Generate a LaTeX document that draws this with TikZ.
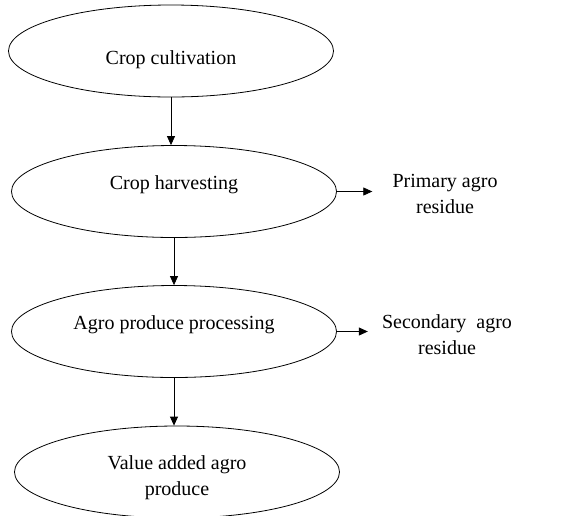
\documentclass[tikz,border=0pt]{standalone}
\usepackage{fontspec}
\setmainfont{Liberation Serif}
\usetikzlibrary{shapes.geometric,arrows.meta}
\begin{document}
\begin{tikzpicture}[x=1pt,y=-1pt,
  stage/.style={ellipse,draw,line width=0.8pt,inner sep=0pt,
    minimum width=325pt,minimum height=92pt,align=center,
    font=\fontsize{20}{26}\selectfont},
  outtxt/.style={align=center,inner sep=0pt,font=\fontsize{20}{26}\selectfont},
  flow/.style={line width=0.8pt,-{Triangle[length=9pt,width=8pt]}}]
\useasboundingbox (0,0) rectangle (577,515);
\clip (0,0) rectangle (577,515);
% process stages
\node[stage,text height=26pt,text depth=0pt] (cult) at (171,51) {Crop cultivation};
\node[stage,text height=14pt,text depth=18pt] (harv) at (174,191.5) {Crop harvesting};
\node[stage,text height=14pt,text depth=18pt] (proc) at (174,331.5) {Agro produce processing};
\node[stage] (vadd) at (177,472) {\rule{0pt}{26pt}Value added agro\\produce};
% residue outputs
\node[outtxt] (prim) at (445,194) {Primary agro\\residue};
\node[outtxt] (sec) at (447,335) {Secondary\ \ agro\\residue};
% connectors
\draw[flow] (cult.south) -- (cult.south |- harv.north);
\draw[flow] (harv.south) -- (harv.south |- proc.north);
\draw[flow] (proc.south) -- (proc.south |- vadd.north);
\draw[flow] (harv.east) -- ([xshift=-20pt]harv.east -| prim.west);
\draw[flow] (proc.east) -- ([xshift=-14pt]proc.east -| sec.west);
\end{tikzpicture}
\end{document}
